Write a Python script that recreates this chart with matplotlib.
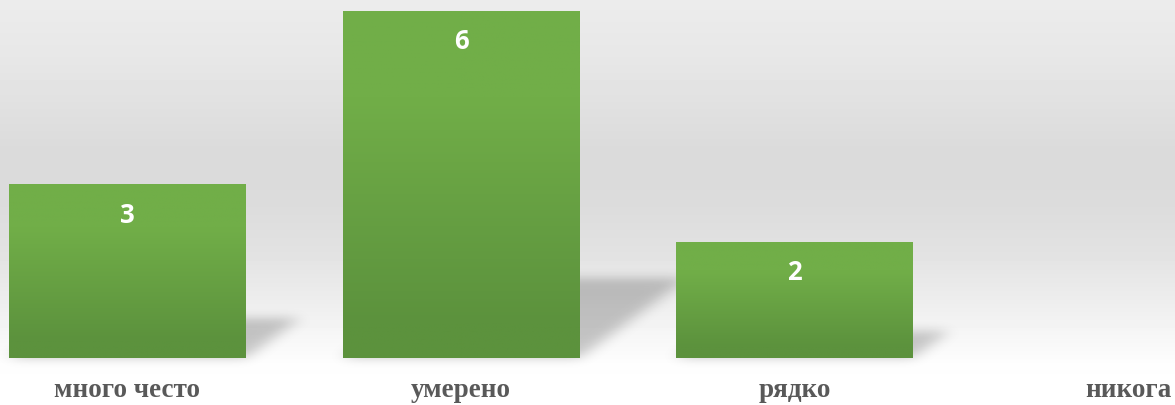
import numpy as np
import matplotlib
matplotlib.use("Agg")
import matplotlib.pyplot as plt
from matplotlib.colors import LinearSegmentedColormap

# data
categories = ["много често", "умерено", "рядко", "никога"]
values = [3, 6, 2, 0]

# look
BAR_TOP = "#71ae48"
BAR_BOTTOM = "#5c923d"
LABEL_GREY = "#595959"
W, H, DPI = 1175, 405, 100
XLIM = (-0.382, 3.14)
YLIM = (-0.813, 6.19)
BAR_W = 0.71


def blur_1d(arr, sigma, axis):
    r = int(3 * sigma)
    k = np.exp(-0.5 * (np.arange(-r, r + 1) / sigma) ** 2)
    k /= k.sum()
    return np.apply_along_axis(lambda m: np.convolve(m, k, mode="same"), axis, arr)


fig = plt.figure(figsize=(W / DPI, H / DPI), dpi=DPI)
ax = fig.add_axes([0, 0, 1, 1])
ax.set_axis_off()

# background: light grey band, white at the bottom
stops_px = [0, 60, 150, 200, 250, 300, 340, 365, 405]
stops_val = [0.925, 0.905, 0.857, 0.86, 0.885, 0.93, 0.97, 0.995, 1.0]
rows = np.interp(np.arange(H), stops_px, stops_val)
bg = np.repeat(rows[:, None], 2, axis=1)
ax.imshow(bg, cmap="gray", vmin=0, vmax=1, extent=[0, 1, 0, 1],
          transform=ax.transAxes, aspect="auto", zorder=0, origin="upper")

# soft perspective shadows behind the bars
xs = np.linspace(XLIM[0], XLIM[1], W)
ys = np.linspace(YLIM[0], YLIM[1], H)
gx, gy = np.meshgrid(xs, ys)
mask = np.zeros_like(gx)
for i, v in enumerate(values):
    if v <= 0:
        continue
    x0, x1 = i - BAR_W / 2, i + BAR_W / 2
    dx, dy = 0.054 * v, 0.23 * v
    t = np.clip(gy / dy, 0, 1)
    inside = (gy >= 0) & (gy <= dy) & (gx >= x0 + t * dx) & (gx <= x1 + t * dx)
    mask = np.maximum(mask, inside.astype(float))
mask = blur_1d(blur_1d(mask, 5, 0), 8, 1)
shadow = np.zeros((H, W, 4))
shadow[..., 3] = mask * 0.21
ax.imshow(shadow, extent=[XLIM[0], XLIM[1], YLIM[0], YLIM[1]],
          origin="lower", aspect="auto", zorder=1)

# bars with vertical green gradient
bar_cmap = LinearSegmentedColormap.from_list(
    "bar", [(0, BAR_BOTTOM), (0.1, BAR_BOTTOM), (0.75, BAR_TOP), (1, BAR_TOP)])
grad = np.linspace(0, 1, 256)[:, None]
x = np.arange(len(categories))
bars = ax.bar(x, values, width=BAR_W, color="none", edgecolor="none", zorder=2)
for rect, v in zip(bars, values):
    if v <= 0:
        continue
    x0 = rect.get_x()
    im = ax.imshow(grad, cmap=bar_cmap,
                   extent=[x0, x0 + rect.get_width(), 0, v], origin="lower",
                   aspect="auto", zorder=3)
    im.set_clip_path(rect)
    ax.text(rect.get_x() + rect.get_width() / 2, v - 0.53, str(v),
            ha="center", va="center", color="white", fontsize=18.5,
            fontweight="bold", family="Open Sans", zorder=4)

for i, cat in enumerate(categories):
    ax.text(i, -0.57, cat, ha="center", va="center", color=LABEL_GREY,
            fontsize=19.5, fontweight="bold", family="Liberation Serif", zorder=4)

ax.set_xlim(*XLIM)
ax.set_ylim(*YLIM)

fig.savefig("out.png", dpi=DPI)
